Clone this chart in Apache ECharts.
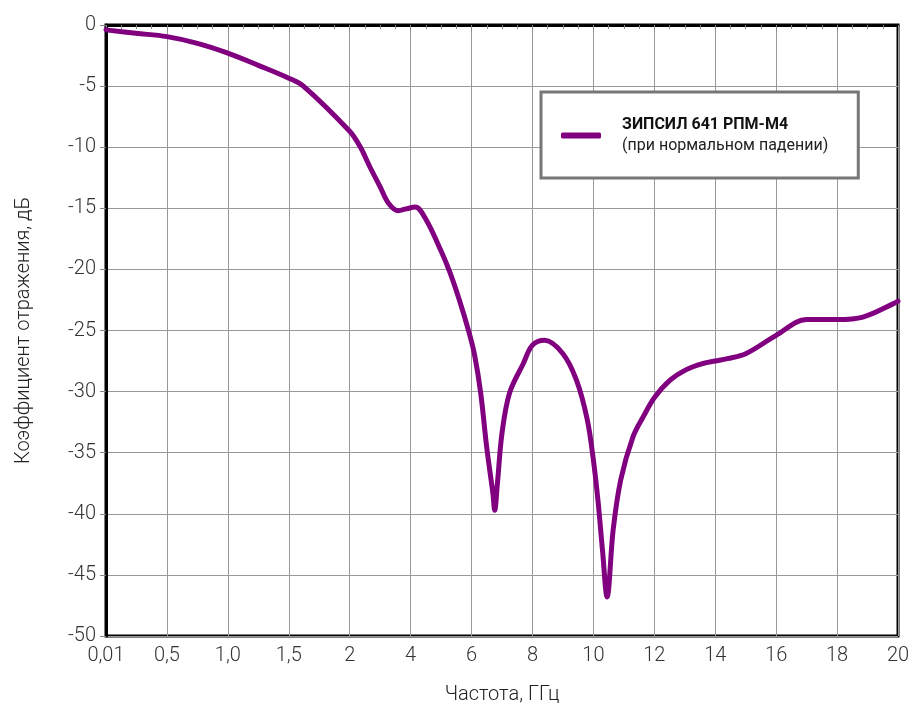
<!DOCTYPE html>
<html>
<head>
<meta charset="utf-8">
<script src="https://cdn.jsdelivr.net/npm/echarts@6/dist/echarts.min.js"></script>
<style>
  html, body { margin: 0; padding: 0; background: #fff; }
  #chart { width: 915px; height: 713px; }
</style>
</head>
<body>
<div id="chart"></div>
<script>
// Tick labels of the (non-uniform) frequency axis, evenly spaced in the picture
const xTickLabels = ['0,01', '0,5', '1,0', '1,5', '2', '4', '6', '8', '10', '12', '14', '16', '18', '20'];
const xTickValues = [0.01, 0.5, 1.0, 1.5, 2, 4, 6, 8, 10, 12, 14, 16, 18, 20];

// Frequency, GHz
const freqGHz = [
  0.01, 0.25, 0.5, 0.75, 1.0, 1.25, 1.5, 1.62,
  2.0, 2.34, 2.66, 3.0, 3.28, 3.6, 3.85, 4.15, 4.5,
  5.0, 5.3, 5.6, 5.9, 6.1, 6.3, 6.5, 6.7, 6.76, 6.85,
  7.0, 7.25, 7.7, 8.0, 8.4, 9.0, 9.45, 9.8, 10.0, 10.15,
  10.3, 10.45, 10.65, 10.9, 11.3, 11.65, 12.0, 12.5, 13.05, 13.6,
  14.0, 14.4, 15.0, 16.0, 17.0, 18.0, 18.85, 19.85, 20.0
];
// Reflection coefficient, dB
const reflectionDb = [
  -0.4, -0.68, -0.95, -1.5, -2.3, -3.3, -4.35, -5.0,
  -8.7, -9.95, -11.6, -13.25, -14.6, -15.2, -15.05, -14.9, -15.9,
  -18.5, -20.3, -22.5, -25.0, -27.0, -30.1, -34.6, -38.3, -39.7, -37.5,
  -33.4, -30.1, -27.7, -26.2, -25.8, -26.9, -29.1, -32.3, -35.6, -38.9,
  -43.0, -46.8, -41.3, -37.2, -33.7, -32.0, -30.5, -29.1, -28.2, -27.7,
  -27.5, -27.3, -26.9, -25.4, -24.1, -24.1, -23.9, -22.8, -22.6
];

const seriesName = 'ЗИПСИЛ 641 РПМ-М4';
const seriesNote = '(при нормальном падении)';
const xAxisName = 'Частота, ГГц';
const yAxisName = 'Коэффициент отражения, дБ';

// map a frequency onto the evenly spaced tick index of the axis (piecewise linear)
function freqToPos(f) {
  for (let i = 0; i < xTickValues.length - 1; i++) {
    const a = xTickValues[i], b = xTickValues[i + 1];
    if (f <= b) return i + (f - a) / (b - a);
  }
  return xTickValues.length - 1;
}

const data = freqGHz.map((f, i) => [freqToPos(f), reflectionDb[i]]);

const font = 'Roboto, "Noto Sans", sans-serif';
const chart = echarts.init(document.getElementById('chart'));
chart.setOption({
  backgroundColor: '#fff',
  animation: false,
  grid: {
    left: 106, right: 17, top: 25, bottom: 77,
    show: true, borderColor: '#000', borderWidth: 3, backgroundColor: 'transparent'
  },
  legend: {
    left: 541, top: 92,
    orient: 'vertical',
    padding: [25, 30, 24, 20],
    borderColor: '#777', borderWidth: 3, backgroundColor: '#fff',
    itemWidth: 40, itemHeight: 6,
    icon: 'roundRect',
    data: [seriesName],
    formatter: function (name) { return '{b|' + name + '}\n{n|' + seriesNote + '}'; },
    textStyle: {
      padding: [0, 0, 0, 16],
      rich: {
        b: { fontFamily: font, fontSize: 16, fontWeight: 'bold', color: '#111', lineHeight: 21 },
        n: { fontFamily: font, fontSize: 16, fontWeight: 'normal', color: '#222', lineHeight: 21 }
      }
    }
  },
  xAxis: {
    type: 'value',
    min: 0, max: 13, interval: 1,
    name: xAxisName,
    nameLocation: 'middle',
    nameGap: 49,
    nameTextStyle: { fontFamily: font, fontSize: 20, fontWeight: 300, color: '#222' },
    axisLine: { show: true, lineStyle: { color: '#000', width: 3 } },
    axisTick: { show: true, length: 6, lineStyle: { color: '#888', width: 1 } },
    minorTick: { show: true, splitNumber: 4, length: 4, lineStyle: { color: '#888', width: 1 } },
    axisLabel: {
      fontFamily: font, fontSize: 20, fontWeight: 300, color: '#333', margin: 10,
      formatter: function (v) { return xTickLabels[Math.round(v)]; }
    },
    splitLine: { show: true, lineStyle: { color: '#999', width: 1 } }
  },
  yAxis: {
    type: 'value',
    min: -50, max: 0, interval: 5,
    name: yAxisName,
    nameLocation: 'middle',
    nameGap: 72,
    nameTextStyle: { fontFamily: font, fontSize: 20, fontWeight: 300, color: '#222' },
    axisLine: { show: true, lineStyle: { color: '#000', width: 3 } },
    axisTick: { show: true, length: 6, lineStyle: { color: '#888', width: 1 } },
    axisLabel: { fontFamily: font, fontSize: 20, fontWeight: 300, color: '#333', margin: 10 },
    splitLine: { show: true, lineStyle: { color: '#999', width: 1 } }
  },
  series: [{
    name: seriesName,
    type: 'line',
    data: data,
    showSymbol: false,
    smooth: 0.35,
    color: '#800080',
    lineStyle: { color: '#800080', width: 5, cap: 'round', join: 'round' },
    clip: true
  }]
});
</script>
</body>
</html>
